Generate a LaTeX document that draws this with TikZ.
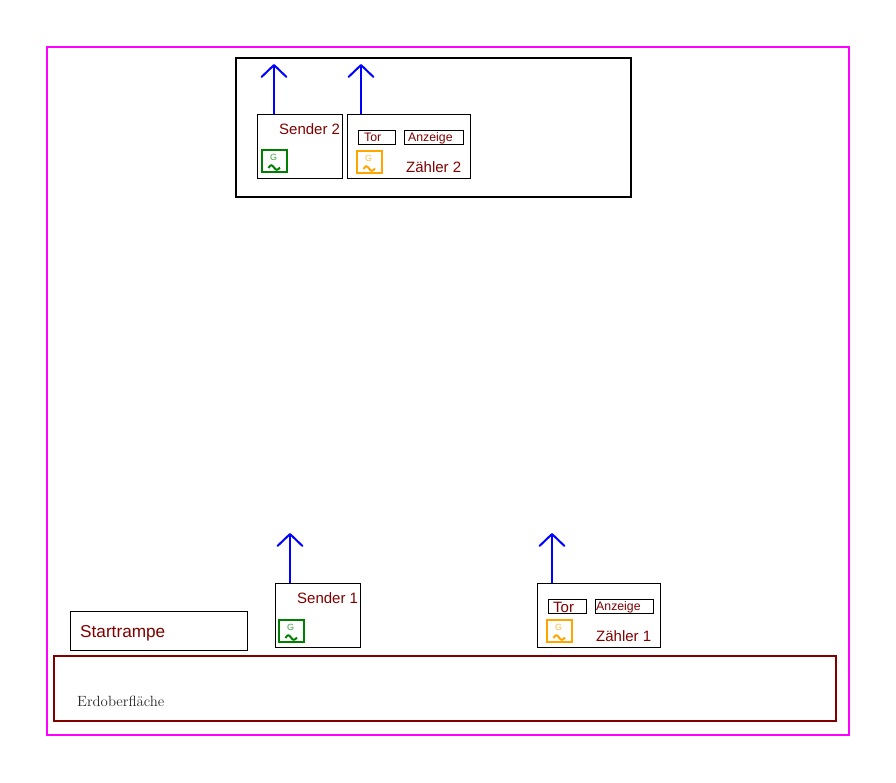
\documentclass[tikz,border=0pt]{standalone}
\usepackage{fontspec}
\setsansfont{Liberation Sans}
\usetikzlibrary{arrows.meta}
\definecolor{brownred}{HTML}{800000}
\definecolor{gengreen}{HTML}{008000}
\definecolor{genorange}{HTML}{FFA500}
\definecolor{framepink}{HTML}{FF00FF}
\newcommand{\fsz}[1]{\fontsize{#1}{#1}\selectfont}
\tikzset{
  x=1pt,y=-1pt,
  box/.style={draw=black,line width=1pt,inner sep=0pt,anchor=north west},
  lbl/.style={text=brownred,font=\sffamily\fsz{15},inner sep=0pt,anchor=base west},
  small lbl/.style={text=brownred,font=\sffamily\fsz{12.3},inner sep=0pt,anchor=base west},
  radiate/.style={draw=blue,line width=2pt,-{Straight Barb[length=12pt,width=25pt,line width=2pt,round=false]}},
  gen/.style={draw=#1,line width=2pt},
  glabel/.style={text=#1!75!white,font=\sffamily\fsz{9},inner sep=0pt},
  wave/.style={draw=#1,line width=2pt},
  genbox/.pic={
    \path[pic actions] (0,0) rectangle (25,22);
    \node[glabel=\pgfkeysvalueof{/tikz/gcol}] at (11.5,7.5) {G};
    \draw[wave=\pgfkeysvalueof{/tikz/gcol}] (6.5,18) .. controls (8.5,14.5) and (10,14.5) .. (12,17.5) .. controls (14,20.5) and (15.5,20.5) .. (18,17.5);
  },
  gcol/.initial=gengreen
}
\begin{document}
\begin{tikzpicture}
\useasboundingbox (0,0) rectangle (896,782);
\draw[draw=framepink,line width=2pt] (47,47) rectangle (849,735);
\draw[draw=black,line width=2pt] (236,58) rectangle (631,197);
\draw[draw=brownred,line width=2pt] (54,655.5) rectangle (836,721);

% upper station
\node[box,minimum width=85pt,minimum height=64pt] (sender2) at (257,114) {};
\node[box,minimum width=123pt,minimum height=64pt] (zaehler2) at (347,114) {};
\node[lbl] (sender2t) at (279,134.5) {Sender 2};
\node[lbl] (zaehler2t) at (406,172.5) {Zähler 2};
\node[box,minimum width=37pt,minimum height=14.5pt] (tor2) at (358,129.5) {};
\node[box,minimum width=59pt,minimum height=14.5pt] (anz2) at (404,129.5) {};
\node[small lbl] (tor2t) at (364,141) {Tor};
\node[small lbl] (anz2t) at (408,141) {Anzeige};
\pic[gen=gengreen,gcol=gengreen] at (262,150) {genbox};
\pic[gen=genorange,gcol=genorange] at (357,151) {genbox};
\coordinate (a2) at (274,64);
\coordinate (b2) at (361,64);
\draw[radiate] (274,114) coordinate (s2) -- (a2);
\draw[radiate] (361,114) coordinate (z2) -- (b2);

% ground
\node[box,minimum width=177pt,minimum height=39.5pt] (rampe) at (70,610.5) {};
\node[lbl,font=\sffamily\fsz{17.2}] (rampet) at (80,637) {Startrampe};
\node[inner sep=0pt,anchor=base west,font=\fsz{14.8},text=black!85] (erde) at (77,706) {Erdoberfläche};
\node[box,minimum width=85pt,minimum height=64pt] (sender1) at (275,583) {};
\node[box,minimum width=123pt,minimum height=64pt] (zaehler1) at (537,583) {};
\node[lbl] (sender1t) at (297,603) {Sender 1};
\node[lbl] (zaehler1t) at (596,641.5) {Zähler 1};
\node[box,minimum width=38pt,minimum height=14.5pt] (tor1) at (548,598.5) {};
\node[box,minimum width=58.5pt,minimum height=14.5pt] (anz1) at (594.5,598.5) {};
\node[lbl] (tor1t) at (553,612) {Tor};
\node[small lbl] (anz1t) at (596,610) {Anzeige};
\pic[gen=gengreen,gcol=gengreen] at (279,620) {genbox};
\pic[gen=genorange,gcol=genorange] at (547,620) {genbox};
\coordinate (a1) at (290,533);
\coordinate (b1) at (552,533);
\draw[radiate] (290,583) coordinate (s1) -- (a1);
\draw[radiate] (552,583) coordinate (z1) -- (b1);
\end{tikzpicture}
\end{document}
